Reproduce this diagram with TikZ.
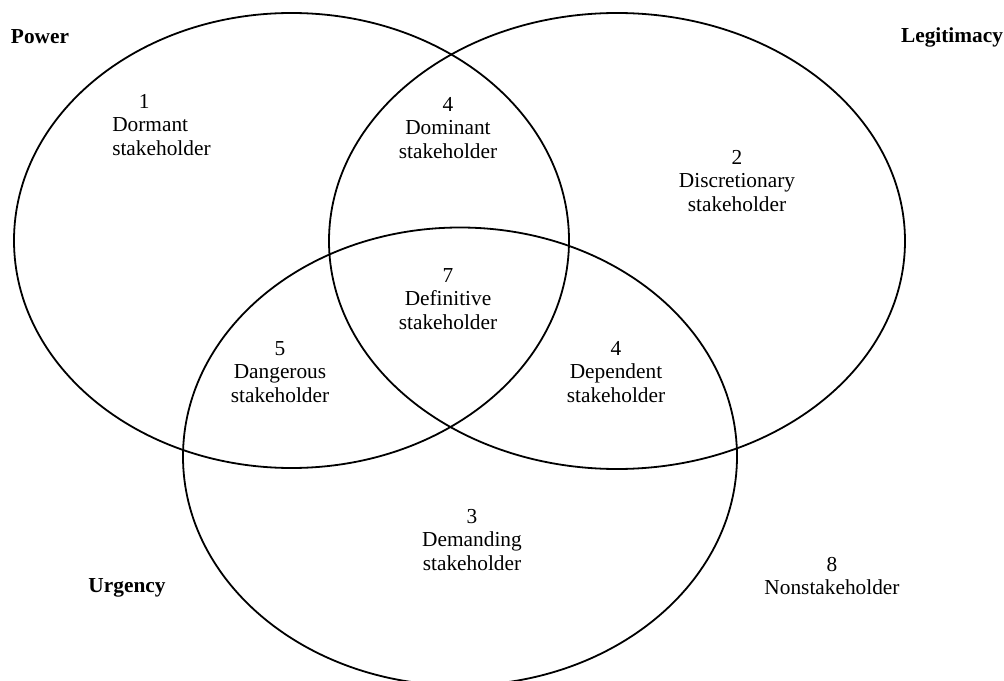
\documentclass[tikz,border=0pt]{standalone}
\usepackage{fontspec}
\setmainfont{Liberation Serif}
\usetikzlibrary{positioning}

\begin{document}
\begin{tikzpicture}[x=0.75pt, y=-0.75pt,
		setline/.style={line width=1.35pt},
		region/.style={align=center, font=\fontsize{16}{17.6}\selectfont},
		setname/.style={font=\fontsize{16}{17.6}\selectfont\bfseries}]
			%%%%% START %%%%%
			\useasboundingbox (0, 0) rectangle (1004, 681);
			
			% the three sets
			\draw[setline] (291.5, 240.5) ellipse [x radius=277.5, y radius=227.5];
			\draw[setline] (617, 241) ellipse [x radius=288, y radius=228];
			\draw[setline] (460, 456.5) ellipse [x radius=277, y radius=229];
			
			\node[setname] (power) at (40, 37) {Power};
			\node[setname] (legit) at (952, 37) {Legitimacy};
			\node[setname] (urgency) at (127, 588) {Urgency};
			
			% the classes
			\node[region, align=left, anchor=west, inner sep=0] (dormant) at (112, 125) {\hspace*{20pt}1\\Dormant\\stakeholder};
			\node[region] (dominant) at (448, 128) {4\\Dominant\\stakeholder};
			\node[region] (discret) at (737, 181) {2\\Discretionary\\stakeholder};
			\node[region] (definitive) at (448, 299) {7\\Definitive\\stakeholder};
			\node[region] (dangerous) at (280, 372) {5\\Dangerous\\stakeholder};
			\node[region] (dependent) at (616, 372) {4\\Dependent\\stakeholder};
			\node[region] (demanding) at (472, 540) {3\\Demanding\\stakeholder};
			\node[region] (nonstake) at (832, 576) {8\\Nonstakeholder};
			
			%%%%% END %%%%%
\end{tikzpicture}
\end{document}
